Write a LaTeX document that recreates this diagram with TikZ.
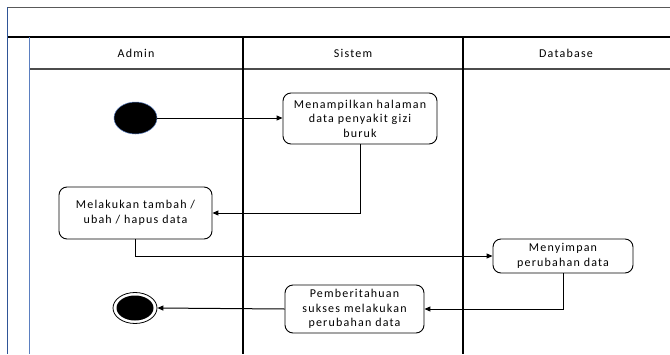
\documentclass[tikz,border=0pt]{standalone}
\usepackage{fontspec}
\setmainfont{Carlito}[LetterSpace=10]
\usetikzlibrary{arrows.meta,shapes.geometric}
\definecolor{frameblue}{HTML}{2F5597}
\definecolor{laneblue}{HTML}{5B7FC0}
\begin{document}
\begin{tikzpicture}[x=1pt,y=-1pt,
  font=\fontsize{12}{14.5}\selectfont,
  action/.style={draw,line width=0.9pt,rounded corners=8pt,align=center,inner sep=0pt,fill=white},
  flow/.style={line width=1pt,-{Triangle[length=6pt,width=5pt]}},
  lane/.style={line width=1.1pt}]
\useasboundingbox (0,0) rectangle (670,354);
% swimlane frame
\draw[line width=1pt,gray!70!black] (7,7) -- (670,7);
\draw[lane] (7,37) -- (670,37);
\draw[lane,gray!60!black] (29,69) -- (670,69);
\draw[line width=1pt,frameblue] (7,7) -- (7,354);
\draw[line width=1pt,laneblue] (29,37) -- (29,354);
\draw[lane] (243,37) -- (243,354);
\draw[lane] (463,37) -- (463,354);
% lane titles
\node (hAdmin) at (136,53) {Admin};
\node (hSistem) at (353,53) {Sistem};
\node (hDb) at (566,53) {Database};
% activities
\node[ellipse,fill=black,draw=laneblue,line width=0.5pt,minimum width=43pt,minimum height=32pt,inner sep=0pt] (start) at (135.5,118) {};
\node[action,minimum width=154pt,minimum height=51pt] (tampil) at (360,118.5) {Menampilkan halaman\\data penyakit gizi\\buruk};
\node[action,minimum width=153pt,minimum height=52pt] (ubah) at (135.5,213) {Melakukan tambah /\\ubah / hapus data};
\node[action,minimum width=140pt,minimum height=34pt] (simpan) at (563,256) {Menyimpan\\perubahan data};
\node[action,minimum width=139pt,minimum height=48pt] (notif) at (354.5,309) {Pemberitahuan\\sukses melakukan\\perubahan data};
\node[ellipse,draw=black,line width=0.8pt,minimum width=44pt,minimum height=31pt,inner sep=0pt] (end) at (135,308) {};
\node[ellipse,fill=black,minimum width=37pt,minimum height=25pt,inner sep=0pt] (endcore) at (135,308) {};
% transitions
\draw[flow] (start.east) -- (tampil.west |- start.east);
\draw[flow] (tampil.south) |- (ubah.east);
\draw[flow] (ubah.south) |- (simpan.west);
\draw[flow] (simpan.south) |- (notif.east);
\draw[flow] (notif.west) -- (end.east);
\end{tikzpicture}
\end{document}
